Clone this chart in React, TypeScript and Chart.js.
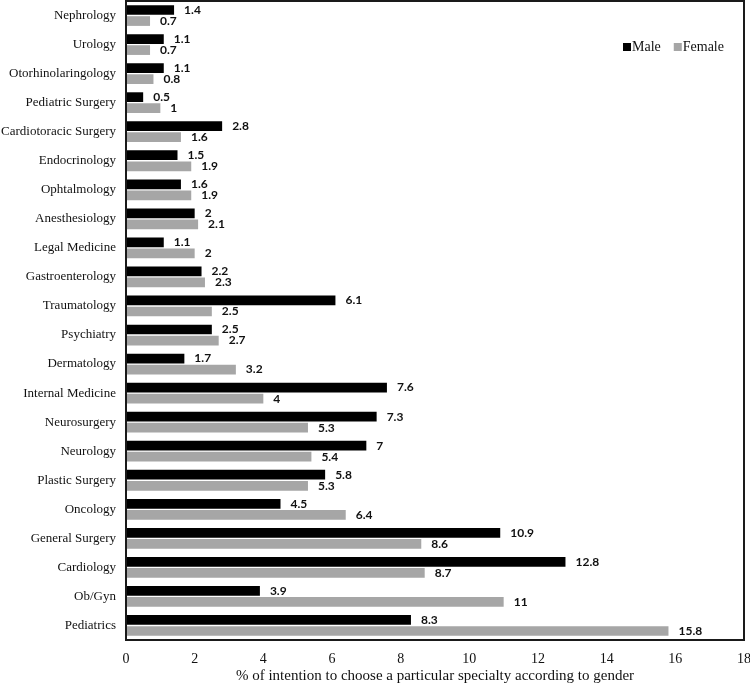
import React, { useEffect, useRef } from "react";
import { Chart, registerables } from "chart.js";

Chart.register(...registerables);

const categories = [
  "Nephrology", "Urology", "Otorhinolaringology", "Pediatric Surgery", "Cardiotoracic Surgery",
  "Endocrinology", "Ophtalmology", "Anesthesiology", "Legal Medicine", "Gastroenterology",
  "Traumatology", "Psychiatry", "Dermatology", "Internal Medicine", "Neurosurgery",
  "Neurology", "Plastic Surgery", "Oncology", "General Surgery", "Cardiology", "Ob/Gyn", "Pediatrics",
];
const maleValues = [1.4, 1.1, 1.1, 0.5, 2.8, 1.5, 1.6, 2, 1.1, 2.2, 6.1, 2.5, 1.7, 7.6, 7.3, 7, 5.8, 4.5, 10.9, 12.8, 3.9, 8.3];
const femaleValues = [0.7, 0.7, 0.8, 1, 1.6, 1.9, 1.9, 2.1, 2, 2.3, 2.5, 2.7, 3.2, 4, 5.3, 5.4, 5.3, 6.4, 8.6, 8.7, 11, 15.8];
const seriesNames = ["Male", "Female"];
const seriesColors = ["#000000", "#a6a6a6"];
const xTitle = "% of intention to choose a particular specialty according to gender";

const SERIF = "'Liberation Serif', 'Times New Roman', serif";
const LABEL_FONT = "bold 12px Lato, 'Open Sans', sans-serif";

const framePlugin = {
  id: "frame",
  afterDatasetsDraw(chart: any) {
    const { ctx, chartArea } = chart;
    ctx.save();
    ctx.strokeStyle = "#1a1a1a";
    ctx.lineWidth = 2;
    ctx.strokeRect(chartArea.left, chartArea.top, chartArea.right - chartArea.left, chartArea.bottom - chartArea.top);
    ctx.restore();
  },
};

const labelPlugin = {
  id: "barLabels",
  afterDatasetsDraw(chart: any) {
    const { ctx } = chart;
    ctx.save();
    ctx.font = LABEL_FONT;
    ctx.fillStyle = "#111";
    ctx.textAlign = "left";
    ctx.textBaseline = "middle";
    chart.data.datasets.forEach((ds: any, i: number) => {
      const meta = chart.getDatasetMeta(i);
      meta.data.forEach((el: any, j: number) => {
        ctx.fillText(String(ds.data[j]), el.x + 10, el.y);
      });
    });
    ctx.restore();
  },
};

const axisTitlePlugin = {
  id: "axisTitle",
  afterDraw(chart: any) {
    const { ctx, chartArea } = chart;
    ctx.save();
    ctx.font = `15px ${SERIF}`;
    ctx.fillStyle = "#111";
    ctx.textAlign = "center";
    ctx.textBaseline = "alphabetic";
    ctx.fillText(xTitle, (chartArea.left + chartArea.right) / 2, 680);
    ctx.restore();
  },
};

const legendPlugin = {
  id: "customLegend",
  afterDraw(chart: any) {
    const { ctx } = chart;
    ctx.save();
    ctx.font = `14px ${SERIF}`;
    ctx.textBaseline = "middle";
    ctx.textAlign = "left";
    const y = 47;
    let x = 623;
    seriesNames.forEach((name, i) => {
      ctx.fillStyle = seriesColors[i];
      ctx.fillRect(x, y - 4, 8, 8);
      ctx.fillStyle = "#111";
      ctx.fillText(name, x + 9, y);
      x += 9 + ctx.measureText(name).width + 13;
    });
    ctx.restore();
  },
};

export default function App() {
  const ref = useRef<HTMLCanvasElement | null>(null);
  useEffect(() => {
    document.body.style.margin = "0";
    if (!ref.current) return;
    const chart = new Chart(ref.current, {
      type: "bar",
      data: {
        labels: categories,
        datasets: [
          { label: seriesNames[0], data: maleValues, backgroundColor: seriesColors[0], categoryPercentage: 0.76, barPercentage: 0.88 },
          { label: seriesNames[1], data: femaleValues, backgroundColor: seriesColors[1], categoryPercentage: 0.76, barPercentage: 0.88 },
        ],
      },
      options: {
        indexAxis: "y",
        animation: false,
        responsive: false,
        maintainAspectRatio: false,
        layout: { padding: { top: 1, right: 6, left: 0, bottom: 0 } },
        plugins: { legend: { display: false }, tooltip: { enabled: false } },
        scales: {
          x: {
            min: 0,
            max: 18,
            ticks: { stepSize: 2, color: "#111", font: { family: SERIF, size: 14 }, padding: 11 },
            grid: { display: false, drawTicks: false },
            border: { display: false },
            title: { display: false },
            afterFit: (s: any) => { s.height = 46; s.paddingLeft = 0; s.paddingRight = 0; },
          },
          y: {
            ticks: { color: "#111", font: { family: SERIF, size: 13 }, padding: 10, autoSkip: false },
            grid: { display: false, drawTicks: false },
            border: { display: false },
            afterFit: (s: any) => { s.width = 126; s.paddingTop = 0; s.paddingBottom = 0; },
          },
        },
      },
      plugins: [framePlugin, labelPlugin, axisTitlePlugin, legendPlugin],
    } as any);
    return () => chart.destroy();
  }, []);
  return <canvas ref={ref} width={750} height={686} style={{ display: "block", width: 750, height: 686 }} />;
}
